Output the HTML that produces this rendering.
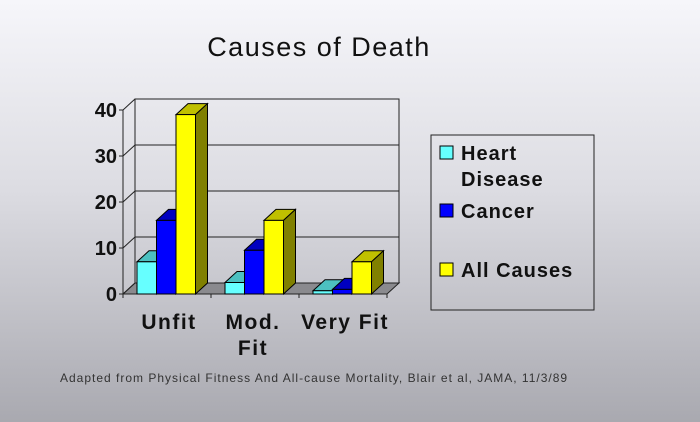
<!DOCTYPE html>
<html><head><meta charset="utf-8"><style>
html,body{margin:0;padding:0;}
body{width:700px;height:422px;overflow:hidden;background:linear-gradient(#f6f6fa 0%,#dcdce2 45%,#a9a9b0 100%);font-family:"Liberation Sans",sans-serif;}
svg{display:block}
</style></head><body>
<svg width="700" height="422" id="chart">
<text x="319" y="56" font-size="27" text-anchor="middle" fill="#111" letter-spacing="1.5">Causes of Death</text>
<g id="plot"></g>
<g>
<rect x="431" y="135" width="163" height="175" fill="none" stroke="#222" stroke-width="1"/>
<rect x="440" y="146" width="13" height="13" fill="#66ffff" stroke="#000"/>
<text x="461" y="160" font-size="20" font-weight="bold" letter-spacing="1" fill="#111">Heart</text>
<text x="461" y="186" font-size="20" font-weight="bold" letter-spacing="1" fill="#111">Disease</text>
<rect x="440" y="204" width="13" height="13" fill="#0000ff" stroke="#000"/>
<text x="461" y="218" font-size="20" font-weight="bold" letter-spacing="1" fill="#111">Cancer</text>
<rect x="440" y="263" width="13" height="13" fill="#ffff00" stroke="#000"/>
<text x="461" y="277" font-size="20" font-weight="bold" letter-spacing="1" fill="#111">All Causes</text>
</g>
<text x="60" y="382" font-size="12" fill="#333" letter-spacing="1">Adapted from Physical Fitness And All-cause Mortality, Blair et al, JAMA, 11/3/89</text>
</svg>
<script>
const categories=["Unfit","Mod.|Fit","Very Fit"];
const heart=[7,2.5,0.7];
const cancer=[16,9.5,1];
const allCauses=[39,16,7];
const ticks=[0,10,20,30,40];
const series=[heart,cancer,allCauses];
const NS="http://www.w3.org/2000/svg";
const g=document.getElementById("plot");
const X0=123,Y0=294,PX=4.6,DX=12,DY=-11,CW=88,BW=19.5,N=3;
const y=v=>Y0-v*PX;
const cx=i=>X0+i*CW;
function mk(t,a,parent){const e=document.createElementNS(NS,t);for(const k in a)e.setAttribute(k,a[k]);(parent||g).appendChild(e);return e;}
const R=X0+N*CW;
// back wall
let e=mk("polygon",{points:`${X0+DX},${y(40)+DY} ${R+DX},${y(40)+DY} ${R+DX},${Y0+DY} ${X0+DX},${Y0+DY}`,fill:"none",stroke:"#222","stroke-width":1});


// floor
e=mk("polygon",{points:`${X0},${Y0} ${R},${Y0} ${R+DX},${Y0+DY} ${X0+DX},${Y0+DY}`,fill:"#8a8a8e",stroke:"#222","stroke-width":1});


// side wall
e=mk("line",{x1:X0,y1:Y0,x2:X0,y2:y(40),stroke:"#222"});


e=mk("line",{x1:X0+DX,y1:Y0+DY,x2:X0+DX,y2:y(40)+DY,stroke:"#222"});


ticks.forEach(t=>{
  if(t>0){const gl=mk("line",{x1:X0+DX,y1:y(t)+DY,x2:R+DX,y2:y(t)+DY,stroke:"#222"});
  
  }
  const d=mk("line",{x1:X0,y1:y(t),x2:X0+DX,y2:y(t)+DY,stroke:"#222"});
  
  
  const tk=mk("line",{x1:X0-4,y1:y(t),x2:X0,y2:y(t),stroke:"#222"});
  
  
  const tx=mk("text",{x:X0-6,y:y(t)+7,"font-size":20,"font-weight":"bold","text-anchor":"end",fill:"#111"});
  tx.textContent=t;
  
  
});
for(let i=0;i<=N;i++){const tk=mk("line",{x1:cx(i),y1:Y0,x2:cx(i),y2:Y0+4,stroke:"#222"});

}
const fills=[["#66ffff","#4cc0c0","#339999"],["#0000ff","#0000c0","#000099"],["#ffff00","#c0c000","#808000"]];
const names=["heart","cancer","all-causes"];
categories.forEach((c,i)=>{
  series.forEach((s,j)=>{
    const x0=cx(i)+14+j*BW,x1=x0+BW,yt=y(s[i]);
    const bg=mk("g",{});
    
    
    mk("polygon",{points:`${x0},${yt} ${x1},${yt} ${x1+DX},${yt+DY} ${x0+DX},${yt+DY}`,fill:fills[j][1],stroke:"#000","stroke-width":1},bg);
    mk("polygon",{points:`${x1},${yt} ${x1},${Y0} ${x1+DX},${Y0+DY} ${x1+DX},${yt+DY}`,fill:fills[j][2],stroke:"#000","stroke-width":1},bg);
    mk("rect",{x:x0,y:yt,width:BW,height:Y0-yt,fill:fills[j][0],stroke:"#000","stroke-width":1},bg);
  });
  c.split("|").forEach((line,k)=>{
    const t=mk("text",{x:cx(i)+CW/2+(i==1?-2:2),y:329+k*26,"font-size":21,"font-weight":"bold","text-anchor":"middle",fill:"#111","letter-spacing":1.5});
    t.textContent=line;
    
    
  });
});
</script>
</body></html>
